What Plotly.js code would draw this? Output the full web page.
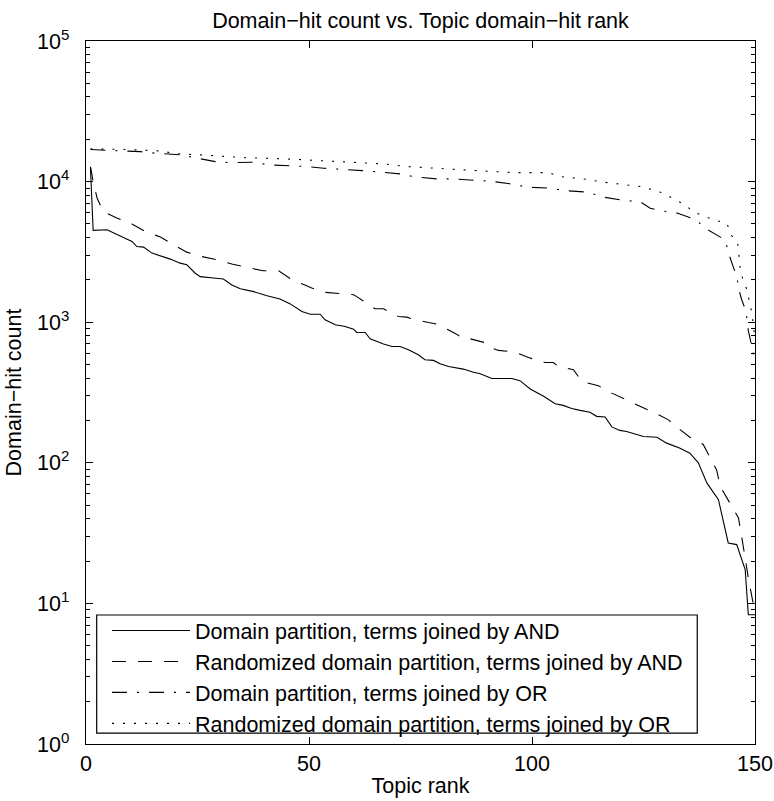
<!DOCTYPE html>
<html>
<head>
<meta charset="utf-8">
<script src="https://cdn.plot.ly/plotly-3.0.1.min.js"></script>
<style>
html,body{margin:0;padding:0;background:#fff;}
#chart{width:774px;height:801px;}
</style>
</head>
<body>
<div id="chart"></div>
<script>
// ---- Data ----
var seriesNames = [
  "Domain partition, terms joined by AND",
  "Randomized domain partition, terms joined by AND",
  "Domain partition, terms joined by OR",
  "Randomized domain partition, terms joined by OR"
];

// Domain partition, AND (solid)
var andDomainRank = [1, 1.6, 4.7, 7.7, 10.3, 11.4, 12.9, 14.8, 16.7, 18.9, 21.1, 22.6, 24.5, 25.6, 28.6, 30.8, 32.7, 34.6, 37.6, 40.6, 43.5, 45.8, 48.4, 50.3, 52.5, 53.6, 55.9, 58.1, 60, 60.7, 62.6, 63.7, 66.7, 68.6, 70.4, 72.3, 74.5, 76, 77.9, 79.4, 81.3, 82.8, 84.6, 86.9, 88.4, 91, 95.5, 97.3, 99.6, 102.6, 105.2, 107, 108.9, 110.8, 113, 114.5, 116.4, 117.9, 119.7, 121.2, 123.5, 125, 128, 130.2, 133.2, 135.4, 137.3, 139.2, 141.8, 144, 145.9, 147.8, 148.5, 150];
var andDomainHits = [12500, 4500, 4540, 4110, 3750, 3450, 3420, 3100, 2970, 2810, 2630, 2560, 2230, 2110, 2060, 2030, 1840, 1730, 1650, 1540, 1460, 1350, 1190, 1140, 1140, 1040, 960, 931, 893, 845, 845, 762, 699, 672, 672, 637, 587, 541, 535, 506, 484, 476, 464, 440, 430, 398, 398, 384, 335, 297, 263, 256, 243, 236, 229, 214, 212, 180, 170, 167, 158, 154, 152, 138, 127, 117, 100, 72, 54.7, 26.9, 26.2, 17.4, 8.3, 8.3];

// Randomized domain partition, AND (dashed)
var andRandomRank = [1, 1.6, 2.5, 3.9, 6.9, 10.3, 13.3, 16.7, 19.6, 22.6, 26, 29.4, 32.7, 36.1, 39.7, 43.2, 46.2, 49.1, 50.6, 53.6, 57.7, 60, 60.7, 63.7, 64.8, 66.7, 70, 71.9, 73.1, 76.8, 78.3, 79.8, 83.1, 84.6, 86.1, 89.9, 91, 92.5, 96.2, 99.2, 102.9, 104.8, 105.9, 109.3, 111.2, 114.9, 117.9, 121.2, 124.2, 127.6, 130.6, 133.2, 135.4, 138.4, 141.4, 142.2, 144.4, 146.3, 147, 148.5, 150];
var andRandomHits = [12780, 10000, 7620, 6120, 5500, 5000, 4410, 4030, 3550, 3150, 2930, 2780, 2590, 2450, 2320, 2320, 2000, 1840, 1750, 1630, 1585, 1567, 1520, 1315, 1245, 1245, 1097, 1087, 1057, 995, 975, 932, 822, 762, 762, 710, 654, 630, 613, 561, 517, 517, 484, 459, 379, 353, 313, 281, 252, 226, 202, 172, 152, 135, 89, 68, 52, 40.5, 30, 15.2, 8.5];

// Domain partition, OR (dash-dot)
var orDomainRank = [1, 3.6, 6.9, 12.2, 15.5, 21.5, 23.8, 29, 32.3, 37.6, 40.9, 46.2, 49.5, 53.3, 56.6, 61.9, 64.8, 70.4, 73.4, 78.7, 82, 87.2, 90.6, 95.7, 99, 104.1, 107.4, 112.6, 116, 120.9, 124.2, 126.5, 129.1, 132.3, 136.8, 138.8, 141.3, 143.3, 144.2, 144.9, 145.9, 146.5, 147, 148, 148.3, 148.5, 149.5, 150];
var orDomainHits = [16900, 16800, 16600, 16330, 15920, 15480, 14900, 13870, 13640, 13740, 13150, 12940, 12800, 12450, 12300, 11970, 11780, 11350, 10850, 10450, 10450, 10160, 10070, 9590, 9120, 8980, 8630, 8410, 7750, 7330, 7210, 6470, 6190, 6020, 5340, 4660, 4200, 3850, 3010, 2600, 2110, 1650, 1450, 1190, 930, 870, 630, 500];

// Randomized domain partition, OR (dotted)
var orRandomRank = [1, 10, 17, 20, 27, 31.6, 35.5, 45, 53.3, 61.1, 66.7, 71.9, 79.8, 87.6, 95.8, 103.7, 106.3, 111.5, 116.8, 122, 124.6, 129.4, 131.8, 134.3, 136.3, 138.8, 141.3, 143.7, 144.6, 146.1, 146.6, 147.2, 148.1, 148.7, 149.3, 149.6, 150];
var orRandomHits = [17080, 16900, 16500, 15800, 15400, 15070, 14800, 14500, 14100, 13650, 13360, 12800, 12450, 11970, 11590, 11590, 10850, 10450, 9840, 9480, 9210, 8280, 7500, 6830, 6050, 5640, 5280, 5060, 4180, 3700, 2520, 2060, 1730, 1430, 1160, 975, 750];

// Axis tick labels
var xTickVals = [0, 50, 100, 150];
var xTickText = ["0", "50", "100", "150"];
var yTickVals = [1, 10, 100, 1000, 10000, 100000];
var yTickText = ["10<sup>0</sup>", "10<sup>1</sup>", "10<sup>2</sup>", "10<sup>3</sup>", "10<sup>4</sup>", "10<sup>5</sup>"];

// minor log ticks (2..9 in each decade)
var yMinor = [];
for (var d = 1; d < 100000; d *= 10) {
  for (var m = 2; m <= 9; m++) yMinor.push(m * d);
}

var FONT = "Liberation Sans, Arial, Helvetica, sans-serif";
var FS = 21.5;
var lineColor = "#000000";

var traces = [
  {x: andDomainRank, y: andDomainHits, name: seriesNames[0], mode: "lines",
   line: {color: lineColor, width: 1.1, dash: "solid"}},
  {x: andRandomRank, y: andRandomHits, name: seriesNames[1], mode: "lines",
   line: {color: lineColor, width: 1.1, dash: "14px,12px"}},
  {x: orDomainRank, y: orDomainHits, name: seriesNames[2], mode: "lines",
   line: {color: lineColor, width: 1.1, dash: "15px,10px,2px,10px"}},
  {x: orRandomRank, y: orRandomHits, name: seriesNames[3], mode: "lines",
   line: {color: lineColor, width: 1.1, dash: "2px,9px"}}
];

var layout = {
  width: 774,
  height: 801,
  margin: {l: 86, r: 19, t: 41, b: 57},
  paper_bgcolor: "#ffffff",
  plot_bgcolor: "#ffffff",
  font: {family: FONT, size: FS, color: "#000000"},
  showlegend: true,
  title: {
    text: "Domain\u2212hit count vs. Topic domain\u2212hit rank",
    font: {family: FONT, size: FS, color: "#000"},
    xref: "paper", x: 0.5, xanchor: "center",
    yref: "container", y: 0.975, yanchor: "middle"
  },
  xaxis: {
    range: [0, 150],
    tickmode: "array", tickvals: xTickVals, ticktext: xTickText,
    ticks: "inside", ticklen: 7, tickwidth: 1, tickcolor: "#000",
    showline: true, linecolor: "#000", linewidth: 1.4, mirror: "ticks",
    showgrid: false, zeroline: false,
    tickfont: {family: FONT, size: FS, color: "#000"},
    ticklabelstandoff: 0,
    title: {text: "Topic rank", font: {family: FONT, size: FS, color: "#000"}, standoff: 2}
  },
  yaxis: {
    type: "log",
    range: [0, 5],
    tickmode: "array", tickvals: yTickVals, ticktext: yTickText,
    ticks: "inside", ticklen: 7, tickwidth: 1, tickcolor: "#000",
    minor: {tickmode: "array", tickvals: yMinor, ticks: "inside", ticklen: 4, tickcolor: "#000", showgrid: false},
    showline: true, linecolor: "#000", linewidth: 1.4, mirror: "ticks",
    showgrid: false, zeroline: false,
    tickfont: {family: FONT, size: FS, color: "#000"},
    ticklabelstandoff: 11,
    title: {text: "Domain\u2212hit count", font: {family: FONT, size: FS, color: "#000"}, standoff: 9}
  },
  shapes: [{
    type: "rect", xref: "paper", yref: "paper",
    x0: 0.016, x1: 0.9137, y0: 0.0156, y1: 0.1835,
    line: {color: "#000", width: 1.2}, fillcolor: "#ffffff", layer: "above"
  }],
  legend: {
    x: 0.0314, y: 0.1906, xanchor: "left", yanchor: "top",
    bgcolor: "rgba(0,0,0,0)", borderwidth: 0,
    font: {family: FONT, size: FS, color: "#000"},
    itemwidth: 78,
    traceorder: "normal"
  }
};

Plotly.newPlot("chart", traces, layout, {displayModeBar: false, staticPlot: true});
</script>
</body>
</html>
